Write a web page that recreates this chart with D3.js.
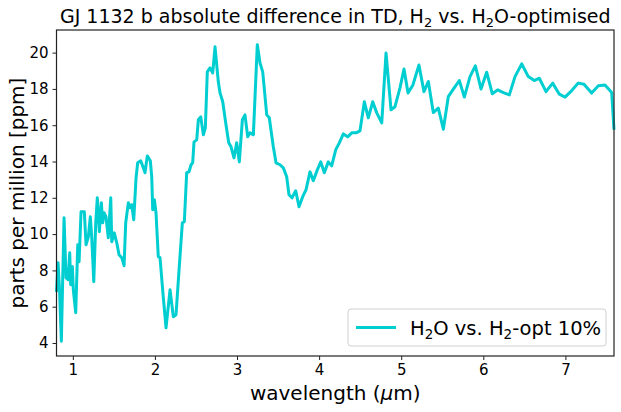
<!DOCTYPE html>
<html>
<head>
<meta charset="utf-8">
<script src="https://cdn.jsdelivr.net/npm/d3@7"></script>
<style>
  body { margin: 0; background: #fff; }
  text { font-family: "DejaVu Sans", sans-serif; fill: #000; }
</style>
</head>
<body>
<div id="chart"></div>
<script>
var svgWidth = 621;
var svgHeight = 412;

var margin = { top: 30, right: 7, bottom: 56, left: 56.5 };
var width = svgWidth - margin.left - margin.right;
var height = svgHeight - margin.top - margin.bottom;

// wavelength in micron
var wavelength = [0.801, 0.820, 0.838, 0.860, 0.893, 0.917, 0.942, 0.962, 0.974, 0.994,
  1.006, 1.035, 1.060, 1.076, 1.100, 1.140, 1.161, 1.189, 1.213, 1.230,
  1.255, 1.279, 1.298, 1.323, 1.347, 1.364, 1.380, 1.404, 1.432, 1.462,
  1.474, 1.505, 1.535, 1.563, 1.596, 1.624, 1.644, 1.676, 1.700, 1.717,
  1.742, 1.770, 1.790, 1.827, 1.859, 1.879, 1.907, 1.944, 1.961, 1.973,
  1.993, 2.013, 2.041, 2.062, 2.099, 2.135, 2.184, 2.224, 2.257, 2.294,
  2.334, 2.358, 2.387, 2.415, 2.440, 2.460, 2.476, 2.509, 2.529, 2.558,
  2.590, 2.614, 2.638, 2.671, 2.704, 2.732, 2.772, 2.793, 2.826, 2.862,
  2.899, 2.927, 2.963, 2.996, 3.028, 3.065, 3.097, 3.130, 3.158, 3.199,
  3.247, 3.280, 3.313, 3.362, 3.393, 3.442, 3.475, 3.524, 3.564, 3.605,
  3.633, 3.670, 3.715, 3.755, 3.800, 3.840, 3.889, 3.929, 3.978, 4.020,
  4.063, 4.112, 4.153, 4.202, 4.246, 4.295, 4.348, 4.397, 4.449, 4.498,
  4.551, 4.599, 4.653, 4.702, 4.763, 4.815, 4.876, 4.924, 4.985, 5.034,
  5.083, 5.143, 5.216, 5.277, 5.330, 5.391, 5.452, 5.513, 5.574, 5.635,
  5.708, 5.769, 5.838, 5.903, 5.972, 6.041, 6.110, 6.175, 6.244, 6.317,
  6.386, 6.468, 6.548, 6.621, 6.682, 6.764, 6.845, 6.926, 6.995, 7.077,
  7.157, 7.226, 7.320, 7.401, 7.482, 7.564, 7.592];

// absolute difference in transit depth, ppm
var diffPpm = [6.82, 8.42, 6.93, 4.10, 10.90, 7.60, 7.49, 8.97, 7.21, 8.21,
  6.93, 5.67, 9.41, 8.48, 11.23, 11.23, 9.41, 9.85, 10.95, 9.85,
  7.38, 10.62, 12.00, 10.13, 11.73, 10.62, 11.18, 10.95, 9.80, 12.00,
  9.58, 10.07, 9.52, 8.86, 8.70, 8.26, 10.62, 11.73, 11.45, 11.62,
  10.79, 13.10, 13.93, 14.04, 13.65, 13.38, 14.31, 14.04, 13.16, 11.34,
  11.89, 11.18, 8.75, 8.70, 6.66, 4.84, 6.93, 5.45, 5.56, 8.04,
  10.62, 10.68, 13.38, 13.43, 13.82, 13.93, 15.08, 15.19, 16.30, 16.46,
  15.47, 15.85, 18.94, 19.16, 18.88, 20.32, 18.39, 17.78, 17.29, 16.13,
  15.03, 14.81, 14.20, 15.03, 13.98, 16.30, 16.57, 15.36, 15.58, 15.47,
  20.43, 19.43, 18.94, 16.57, 16.41, 14.81, 13.93, 13.82, 13.65, 13.16,
  12.17, 12.00, 12.39, 11.51, 12.06, 12.44, 13.43, 12.94, 13.54, 13.98,
  13.38, 13.98, 13.76, 14.64, 15.03, 15.52, 15.36, 15.58, 15.58, 15.69,
  17.29, 16.41, 17.29, 16.68, 16.13, 19.98, 16.85, 17.02, 18.06, 19.10,
  17.78, 18.22, 19.32, 17.85, 18.41, 16.70, 16.94, 15.78, 17.58, 17.99,
  18.46, 17.55, 18.68, 19.27, 18.00, 18.92, 17.73, 17.95, 17.80, 17.67,
  18.68, 19.38, 18.68, 18.46, 18.59, 17.85, 18.32, 17.71, 17.55, 17.91,
  18.32, 18.26, 17.77, 18.17, 18.22, 17.80, 15.75];

var xTicks = [1, 2, 3, 4, 5, 6, 7];
var yTicks = [4, 6, 8, 10, 12, 14, 16, 18, 20];

var lineColor = "#00ced1";

var svg = d3.select("#chart")
  .append("svg")
  .attr("width", svgWidth)
  .attr("height", svgHeight);

var chartGroup = svg.append("g")
  .attr("transform", `translate(${margin.left}, ${margin.top})`);

var data = wavelength.map((w, i) => ({ w: w, v: diffPpm[i] }));

// x spans the data, y gets matplotlib-like 5% padding
var xLinearScale = d3.scaleLinear()
  .domain(d3.extent(wavelength))
  .range([0, width]);

var yExt = d3.extent(diffPpm);
var pad = (yExt[1] - yExt[0]) * 0.05;
var yLinearScale = d3.scaleLinear()
  .domain([yExt[0] - pad, yExt[1] + pad])
  .range([height, 0]);

var bottomAxis = d3.axisBottom(xLinearScale).tickValues(xTicks)
  .tickFormat(d3.format("d")).tickSize(4).tickPadding(4);
var leftAxis = d3.axisLeft(yLinearScale).tickValues(yTicks)
  .tickFormat(d3.format("d")).tickSize(4).tickPadding(4);

// the line
chartGroup.append("path")
  .datum(data)
  .attr("fill", "none")
  .attr("stroke", lineColor)
  .attr("stroke-width", 3)
  .attr("stroke-linejoin", "round")
  .attr("d", d3.line().x(d => xLinearScale(d.w)).y(d => yLinearScale(d.v)));

var xAxis = chartGroup.append("g")
  .attr("transform", `translate(0, ${height})`)
  .call(bottomAxis);

var yAxis = chartGroup.append("g")
  .call(leftAxis);

[xAxis, yAxis].forEach(function(ax) {
  ax.select(".domain").remove();
  ax.selectAll(".tick line").attr("stroke", "#222").attr("stroke-width", 1);
  ax.selectAll(".tick text").attr("font-size", "15px").attr("font-family", "DejaVu Sans").attr("fill", "#000");
});

// frame
chartGroup.append("rect")
  .attr("width", width)
  .attr("height", height)
  .attr("fill", "none")
  .attr("stroke", "#222")
  .attr("stroke-width", 1.2);

// title
var title = svg.append("text")
  .attr("x", margin.left + width / 2)
  .attr("y", 23)
  .attr("text-anchor", "middle")
  .attr("font-size", "19px");
title.append("tspan").text("GJ 1132 b absolute difference in TD, H");
title.append("tspan").attr("font-size", "13px").attr("dy", 4).text("2");
title.append("tspan").attr("dy", -4).text(" vs. H");
title.append("tspan").attr("font-size", "13px").attr("dy", 4).text("2");
title.append("tspan").attr("dy", -4).text("O-optimised");

// axis labels
var xLabel = svg.append("text")
  .attr("x", margin.left + width / 2)
  .attr("y", 400)
  .attr("text-anchor", "middle")
  .attr("font-size", "20px");
xLabel.append("tspan").text("wavelength (");
xLabel.append("tspan").attr("font-style", "italic").text("\u03bc");
xLabel.append("tspan").text("m)");

svg.append("text")
  .attr("transform", `translate(24, ${margin.top + height / 2}) rotate(-90)`)
  .attr("text-anchor", "middle")
  .attr("font-size", "20px")
  .text("parts per million [ppm]");

// legend
var legend = svg.append("g")
  .attr("transform", "translate(348, 309)");

legend.append("rect")
  .attr("width", 258)
  .attr("height", 37)
  .attr("rx", 3)
  .attr("fill", "#fff")
  .attr("fill-opacity", 0.8)
  .attr("stroke", "#d0d0d0");

legend.append("line")
  .attr("x1", 8).attr("x2", 48)
  .attr("y1", 18.5).attr("y2", 18.5)
  .attr("stroke", lineColor)
  .attr("stroke-width", 3);

var legText = legend.append("text")
  .attr("x", 62)
  .attr("y", 25.5)
  .attr("font-size", "19.5px");
legText.append("tspan").text("H");
legText.append("tspan").attr("font-size", "13.5px").attr("dy", 4).text("2");
legText.append("tspan").attr("dy", -4).text("O vs. H");
legText.append("tspan").attr("font-size", "13.5px").attr("dy", 4).text("2");
legText.append("tspan").attr("dy", -4).text("-opt 10%");
</script>
</body>
</html>
